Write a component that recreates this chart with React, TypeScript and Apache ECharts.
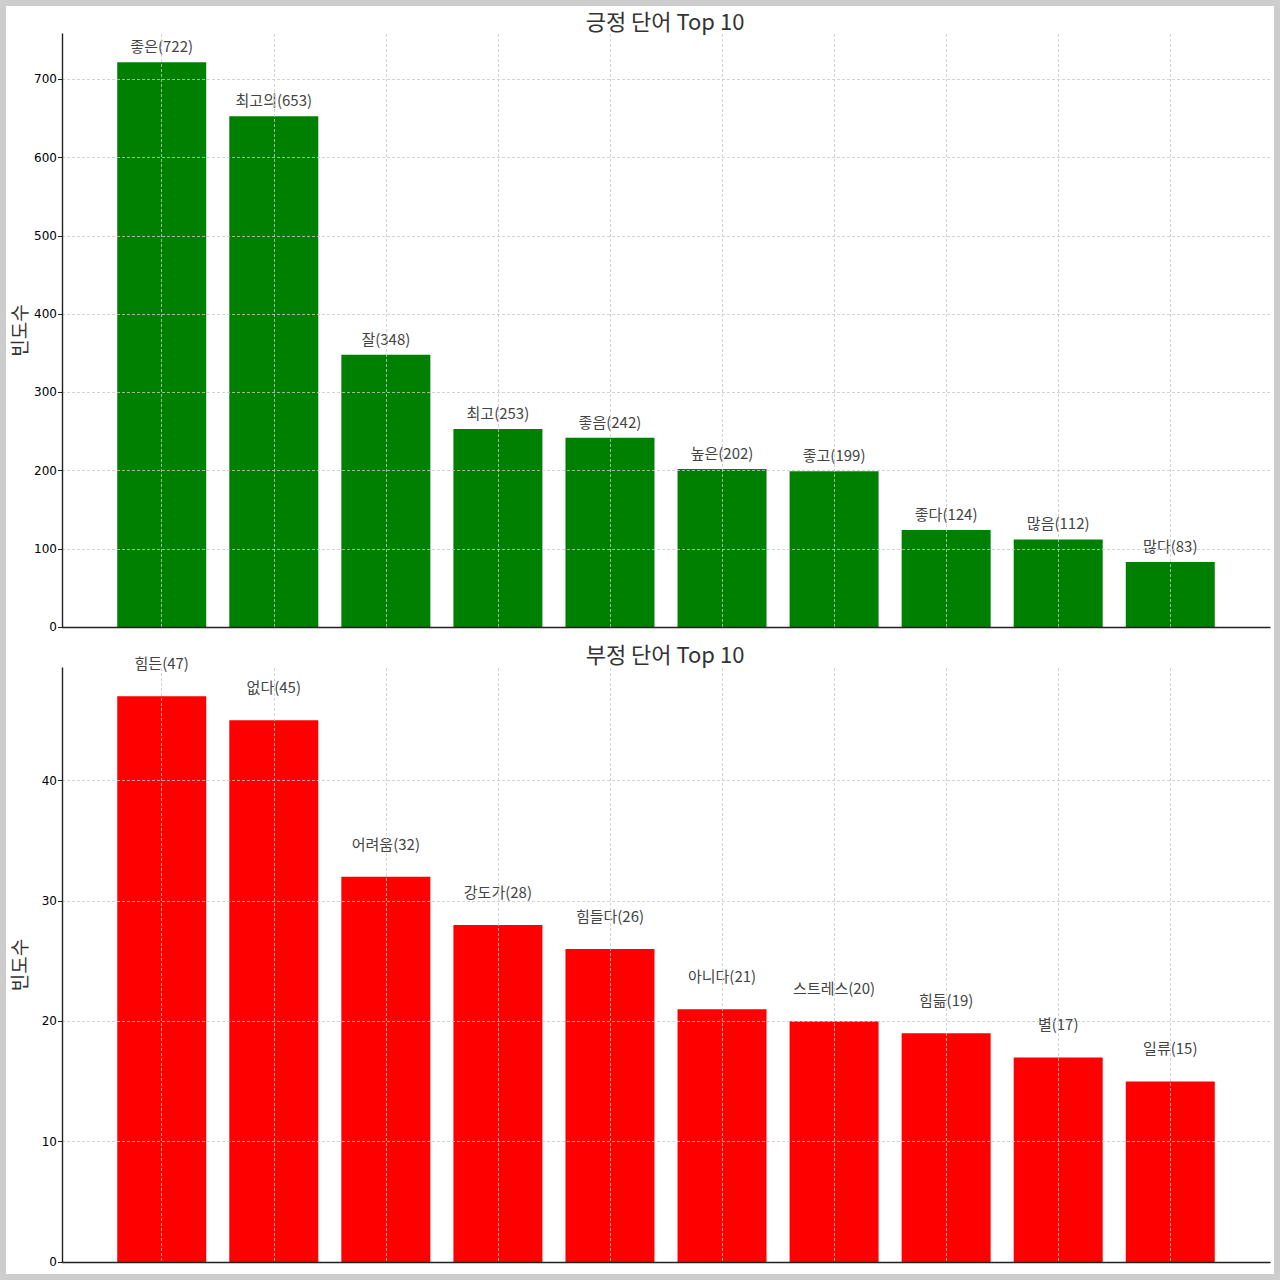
import React, { useRef, useEffect } from 'react';
import * as echarts from 'echarts';

// 긍정 / 부정 단어 빈도
const posWords = ['좋은', '최고의', '잘', '최고', '좋음', '높은', '좋고', '좋다', '많음', '많다'];
const posCounts = [722, 653, 348, 253, 242, 202, 199, 124, 112, 83];
const negWords = ['힘든', '없다', '어려움', '강도가', '힘들다', '아니다', '스트레스', '힘듦', '별', '일류'];
const negCounts = [47, 45, 32, 28, 26, 21, 20, 19, 17, 15];
const posTicks = [0, 100, 200, 300, 400, 500, 600, 700];
const negTicks = [0, 10, 20, 30, 40];
const barIdx = [0, 1, 2, 3, 4, 5, 6, 7, 8, 9];

const FONT = '"Noto Sans CJK KR", "Noto Sans", sans-serif';
const GRID_LINE = { show: true, lineStyle: { color: '#c8c8c8', type: [3, 2] as any, width: 0.8 } };

const App: React.FC = () => {
  const chartRef = useRef<HTMLDivElement>(null);

  useEffect(() => {
    if (!chartRef.current) return;
    const chart = echarts.init(chartRef.current, undefined, { renderer: 'svg' });

    const xAxisOf = (gridIndex: number) => ({
      type: 'value' as const,
      gridIndex,
      min: -0.89,
      max: 9.89,
      z: 5,
      axisLine: { show: true, onZero: false, lineStyle: { color: '#222', width: 1.4 } },
      axisTick: { show: false, customValues: barIdx },
      axisLabel: { show: false, customValues: barIdx },
      splitLine: GRID_LINE,
    });

    const yAxisOf = (gridIndex: number, max: number, ticks: number[]) => ({
      type: 'value' as const,
      gridIndex,
      min: 0,
      max,
      z: 5,
      name: '빈도수',
      nameLocation: 'middle' as const,
      nameGap: 34,
      nameMoveOverlap: false,
      nameTextStyle: { fontFamily: FONT, fontSize: 19, color: '#333' },
      axisLine: { show: true, onZero: false, lineStyle: { color: '#222', width: 1.4 } },
      axisTick: { show: true, length: 4, customValues: ticks, lineStyle: { color: '#222' } },
      axisLabel: { customValues: ticks, fontSize: 12, color: '#000', margin: 5, fontFamily: 'DejaVu Sans' },
      splitLine: GRID_LINE,
    });

    const barSeries = (idx: number, words: string[], counts: number[], color: string, dist: number) => ({
      type: 'bar' as const,
      xAxisIndex: idx,
      yAxisIndex: idx,
      barWidth: 89,
      z: 2,
      itemStyle: { color },
      data: counts.map((c, i) => [i, c]),
      label: {
        show: true,
        position: 'top' as const,
        distance: dist,
        fontFamily: FONT,
        fontSize: 15,
        color: '#444',
        formatter: (p: any) => `${words[p.dataIndex]}(${counts[p.dataIndex]})`,
      },
    });

    const titleStyle = { fontFamily: FONT, fontSize: 22, fontWeight: 'normal' as const, color: '#333' };

    chart.setOption({
      animation: false,
      backgroundColor: '#fff',
      title: [
        { text: '긍정 단어 Top 10', left: 659, top: 3, padding: 0, textAlign: 'center', textStyle: titleStyle },
        { text: '부정 단어 Top 10', left: 659, top: 636, padding: 0, textAlign: 'center', textStyle: titleStyle },
      ],
      grid: [
        { left: 56, top: 28, width: 1208, height: 593, containLabel: false, outerBoundsMode: 'none' },
        { left: 56, top: 662, width: 1208, height: 594, containLabel: false, outerBoundsMode: 'none' },
      ],
      xAxis: [xAxisOf(0), xAxisOf(1)],
      yAxis: [yAxisOf(0, 758.1, posTicks), yAxisOf(1, 49.35, negTicks)],
      series: [
        barSeries(0, posWords, posCounts, '#008000', 9),
        barSeries(1, negWords, negCounts, '#ff0000', 26),
      ],
    });

    return () => {
      chart.dispose();
    };
  }, []);

  return (
    <div style={{ position: 'fixed', left: 0, top: 0, width: 1280, height: 1280, background: '#cdcdcd' }}>
      <div ref={chartRef} style={{ position: 'absolute', left: 6, top: 6, width: 1268, height: 1268 }} />
    </div>
  );
};

export default App;
